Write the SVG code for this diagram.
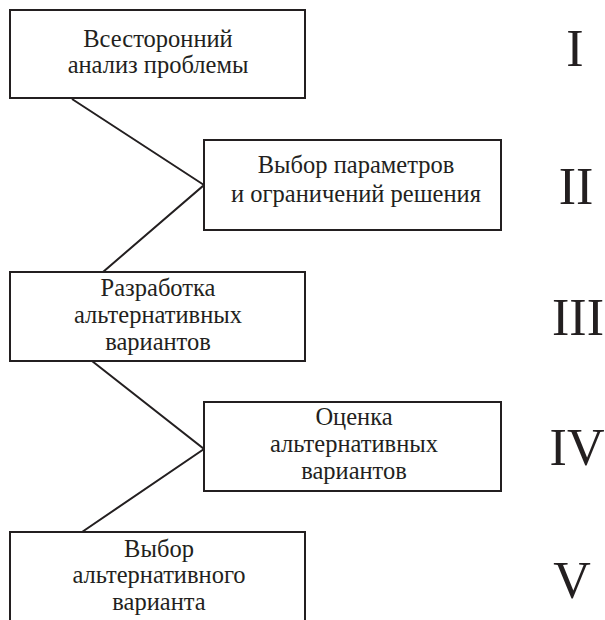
<svg xmlns="http://www.w3.org/2000/svg" width="605" height="620" viewBox="0 0 605 620">
<style>
.box{fill:#fff;stroke:#231f20;stroke-width:2}
.t{font-family:"Liberation Serif","Times New Roman",serif;font-size:24.5px;fill:#231f20;text-anchor:middle}
.n{font-family:"Liberation Serif","Times New Roman",serif;font-size:52px;fill:#231f20;text-anchor:middle}
.c{fill:none;stroke:#231f20;stroke-width:2}
</style>
<rect width="605" height="620" fill="#fff"/>
<g id="connectors">
<polyline class="c" points="72,99 204,185 103,272"/>
<polyline class="c" points="92,361 204,449 82,532"/>
</g>
<g id="node1">
<rect class="box" x="10" y="10" width="295" height="88"/>
<text class="t" x="158" y="47">Всесторонний</text>
<text class="t" x="158" y="73">анализ проблемы</text>
</g>
<g id="node2">
<rect class="box" x="204" y="140" width="297" height="90"/>
<text class="t" x="356" y="173">Выбор параметров</text>
<text class="t" x="356" y="202">и ограничений решения</text>
</g>
<g id="node3">
<rect class="box" x="10" y="272" width="295" height="89"/>
<text class="t" x="158" y="296">Разработка</text>
<text class="t" x="158" y="323">альтернативных</text>
<text class="t" x="158" y="350">вариантов</text>
</g>
<g id="node4">
<rect class="box" x="204" y="402" width="297" height="89"/>
<text class="t" x="354" y="425">Оценка</text>
<text class="t" x="354" y="452">альтернативных</text>
<text class="t" x="354" y="479">вариантов</text>
</g>
<g id="node5">
<rect class="box" x="10" y="532" width="295" height="100"/>
<text class="t" x="159" y="557">Выбор</text>
<text class="t" x="159" y="583">альтернативного</text>
<text class="t" x="159" y="610">варианта</text>
</g>
<g id="numerals">
<text class="n" x="575" y="66">I</text>
<text class="n" x="576" y="204">II</text>
<text class="n" x="578" y="335">III</text>
<text class="n" x="577" y="465">IV</text>
<text class="n" x="572" y="598">V</text>
</g>
</svg>
